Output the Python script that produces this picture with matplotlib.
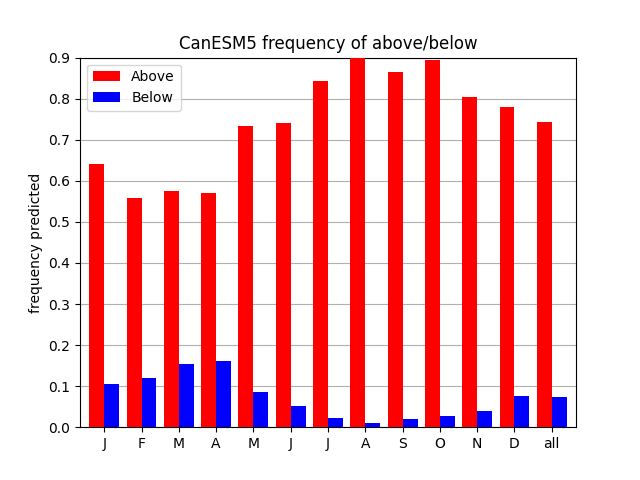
import numpy as np
import matplotlib
matplotlib.use("Agg")
import matplotlib.pyplot as plt

# month labels and frequencies
months = ["J", "F", "M", "A", "M", "J", "J", "A", "S", "O", "N", "D", "all"]
above = [0.641, 0.558, 0.576, 0.571, 0.734, 0.741, 0.844, 0.898, 0.866, 0.893, 0.805, 0.780, 0.744]
below = [0.105, 0.120, 0.154, 0.161, 0.085, 0.051, 0.022, 0.010, 0.020, 0.027, 0.039, 0.076, 0.073]

x = np.arange(len(months))
width = 0.4

fig, ax = plt.subplots(figsize=(6.4, 4.8), dpi=100)
ax.bar(x - width / 2, above, width, color="red", label="Above", zorder=3)
ax.bar(x + width / 2, below, width, color="blue", label="Below", zorder=3)

ax.set_xticks(x)
ax.set_xticklabels(months)
# same limits a pandas bar plot would give
ax.set_xlim(-0.65, len(months) - 1 + 0.65)
ax.set_ylim(0, 0.9)
ax.yaxis.grid(True, color="#b0b0b0", zorder=0)
ax.set_axisbelow(True)
ax.set_ylabel("frequency predicted")
ax.set_title("CanESM5 frequency of above/below")
ax.legend(loc="upper left")

plt.savefig("out.png")
